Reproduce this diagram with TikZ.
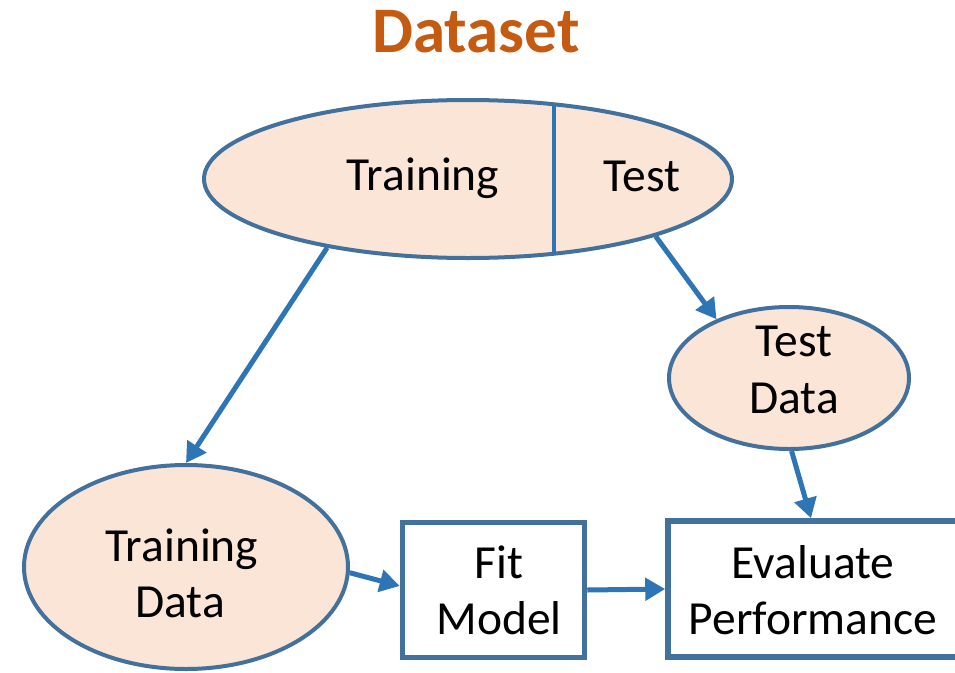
\documentclass[tikz,border=0pt]{standalone}
\usepackage{fontspec}
\setmainfont{Carlito}
\usetikzlibrary{arrows.meta,shapes.geometric,calc}
\definecolor{shapefill}{HTML}{FBE5D6}
\definecolor{shapeline}{HTML}{41719C}
\definecolor{arrowblue}{HTML}{2E75B6}
\definecolor{titleorange}{HTML}{C55A11}
\tikzset{
  ell/.style={ellipse, draw=shapeline, fill=shapefill, line width=4pt, inner sep=0pt},
  boxnode/.style={rectangle, draw=shapeline, fill=white, line width=5.5pt, inner sep=0pt},
  lbl/.style={anchor=base, inner sep=0pt, font=\fontsize{47.5}{57}\selectfont},
  conn/.style={draw=arrowblue, line width=5pt, -{Triangle[length=20pt,width=22pt]}},
}
\begin{document}
\begin{tikzpicture}[x=1pt,y=-1pt]
\useasboundingbox (0,0) rectangle (955,672);
\begin{scope}
\clip (0,0) rectangle (955,672);
% title
\node[anchor=base, inner sep=0pt, text=titleorange, font=\fontsize{65}{72}\selectfont\bfseries] (title) at (476,52) {Dataset};
% big dataset ellipse
\node[ell, minimum width=528pt, minimum height=158pt] (ds) at (468,179) {};
\draw[arrowblue, line width=4.5pt] (554,104.5) -- (554,253.5);
\node[lbl] (trn) at (423,190) {Training};
\node[lbl] (tst) at (642,191) {Test};
% test data
\node[ell, minimum width=240pt, minimum height=142pt] (td) at (789,378) {};
\node[lbl] (td1) at (794,356) {Test};
\node[lbl] (td2) at (794,413) {Data};
% training data
\node[ell, minimum width=324pt, minimum height=204pt] (trd) at (186,567) {};
\node[lbl] (trd1) at (182,561) {Training};
\node[lbl] (trd2) at (180,617) {Data};
% fit model
\node[boxnode, minimum width=182pt, minimum height=135pt] (fit) at (493.5,590) {};
\node[lbl] (fit1) at (499,578) {Fit};
\node[lbl] (fit2) at (499,634) {Model};
% evaluate performance
\node[boxnode, minimum width=300pt, minimum height=136pt] (ev) at (818,589) {};
\node[lbl] (ev1) at (813,578) {Evaluate};
\node[lbl] (ev2) at (813,634) {Performance};
% connectors
\draw[conn] (ds.-154) -- (trd.north);
\draw[conn] (ds.-17.4) -- (td.141);
\draw[conn] (td.-88) -- (ev.north -| 811,0);
\draw[conn] (trd.-2) -- ($(fit.west)+(0,-4)$);
\draw[conn] (fit.east) -- (ev.west);
\end{scope}
\end{tikzpicture}
\end{document}
